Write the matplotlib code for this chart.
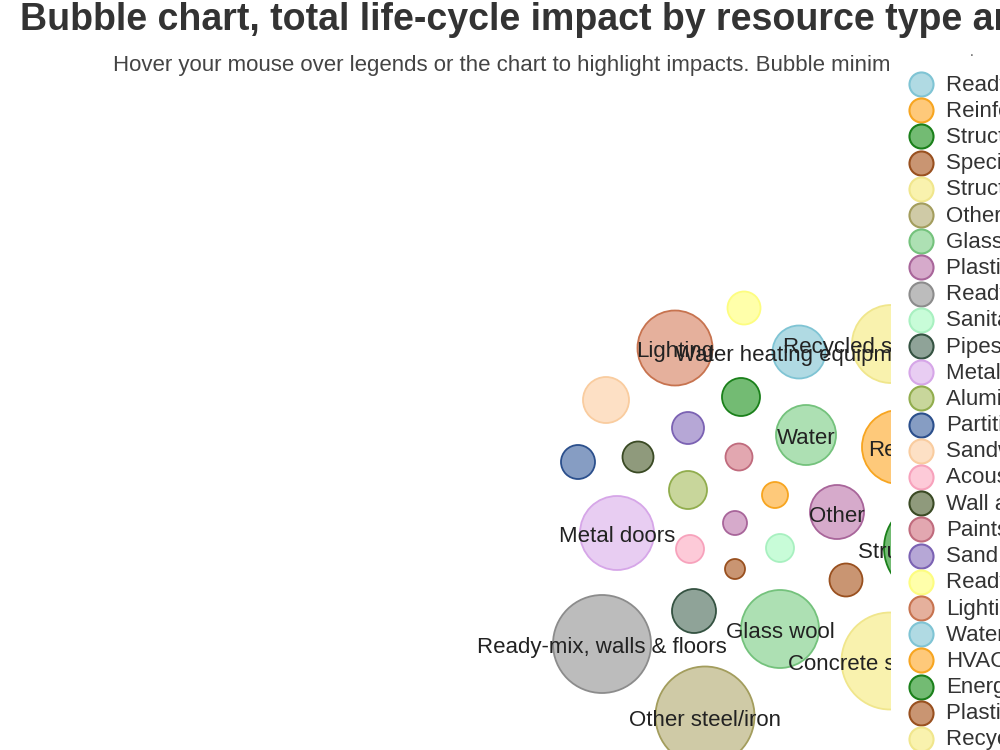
import matplotlib.pyplot as plt
from matplotlib.patches import Circle, Rectangle

plt.rcParams['font.family'] = ['Liberation Sans', 'DejaVu Sans']

# colour cycle: (fill, edge)
fills = ['#b0dae3', '#fec97a', '#73bb73', '#c99572', '#f9f2ae', '#cfcaa6', '#ade0b3',
         '#d6aacb', '#bcbcbc', '#c8fcd8', '#8fa398', '#e8cdf2', '#c8d69b', '#869dc3',
         '#fde0c5', '#fdcad8', '#8f9a7c', '#e2a7b0', '#b6a7d6', '#ffffaa', '#e5b09c']
edges = ['#7fc4d4', '#f7a520', '#1a801a', '#99501f', '#f0e68c', '#a39d5d', '#74c27c',
         '#a8659a', '#8c8c8c', '#a8f0c0', '#345241', '#d6a6e8', '#91ad4d', '#2b4f8c',
         '#f9cc9f', '#f7a2bc', '#3a4a24', '#c06b7d', '#7b62b3', '#fdfd80', '#c7734f']

# legend entries (cut off by the right edge in the original)
legend_names = ['Ready-mix, foundations', 'Reinforcement steel', 'Structural steel',
                'Special concrete', 'Structural timber', 'Other steel/iron', 'Glass wool',
                'Plastics, insulation', 'Ready-mix, walls & floors', 'Sanitary ware',
                'Pipes and ducts', 'Metal doors', 'Aluminium windows', 'Partitions',
                'Sandwich panels', 'Acoustic ceilings', 'Wall and floor tiles', 'Paints',
                'Sand and gravel', 'Ready-mix, other', 'Lighting', 'Water heating equipment',
                'HVAC', 'Energy', 'Plastic pipes', 'Recycled steel sheets']

# bubbles: label, position in layout, radius, colour index
b_label = ['', 'Lighting', 'Water heating equipment', 'Recycled steel sheets', '', '', '',
           'Water', 'Rebar', '', '', '', '', '', 'Other', '', 'Metal doors', '', '',
           'Structural steel', '', '', 'Ready-mix, walls & floors', '', 'Glass wool',
           'Concrete slabs/walls', 'Other steel/iron']
b_x = [744, 675, 799, 891, 606, 741, 688, 806, 899, 578, 638, 739, 688, 775, 837, 735,
       617, 690, 780, 932, 735, 846, 602, 694, 780, 890, 705]
b_y = [308, 348, 352, 344, 400, 397, 428, 435, 447, 462, 457, 457, 490, 495, 512, 523,
       533, 549, 548, 548, 569, 580, 644, 611, 629, 661, 716]
b_r = [16.5, 37.5, 26.5, 39, 23, 19, 16, 30, 37, 17, 15.5, 13.5, 19, 13, 27, 12,
       37, 14, 14, 48, 10, 16.5, 49, 22, 39, 48.5, 49.5]
b_c = [19, 20, 0, 4, 14, 2, 18, 6, 1, 13, 16, 17, 12, 1, 7, 7,
       11, 15, 9, 2, 3, 3, 8, 10, 6, 4, 5]

fig = plt.figure(figsize=(10, 7.5), dpi=100)
ax = fig.add_axes([0, 0, 1, 1])
ax.set_xlim(0, 1000)
ax.set_ylim(750, 0)
ax.axis('off')

for lab, x, y, r, c in zip(b_label, b_x, b_y, b_r, b_c):
    ax.add_patch(Circle((x, y), r, facecolor=fills[c], edgecolor=edges[c], lw=1.3, zorder=2))
for lab, x, y in zip(b_label, b_x, b_y):
    if lab:
        ax.text(x, y + 4, lab, ha='center', va='center', fontsize=16, color='#222222', zorder=3)

ax.text(20, 20, 'Bubble chart, total life-cycle impact by resource type and building element',
        fontsize=27, fontweight='bold', color='#333333', va='center')
ax.text(113, 65, 'Hover your mouse over legends or the chart to highlight impacts. '
        'Bubble minimum size is 1 kg CO2e.', fontsize=16, color='#444444', va='center')

# legend panel
ax.add_patch(Rectangle((891, 45), 120, 720, facecolor='white', edgecolor='none', zorder=5))
ax.text(972, 52, '.', fontsize=10, color='#555555', ha='center', va='center', zorder=6)
for i, name in enumerate(legend_names):
    y = 84 + i * 26.2
    c = i % 21
    ax.scatter([921], [y], s=300, facecolor=fills[c], edgecolor=edges[c], lw=1.5, zorder=6)
    ax.text(946, y + 1, name, fontsize=16, color='#333333', va='center', zorder=6)

fig.savefig('out.png')
